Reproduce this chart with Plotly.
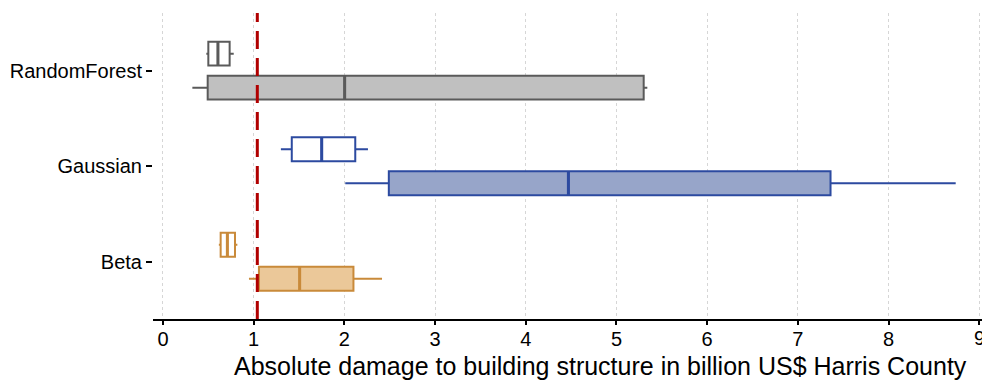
import plotly.graph_objects as go

# Damage estimates per model (billion US$), two summary rows per model
categories = ["Beta", "Gaussian", "RandomForest"]

top_low = [0.616, 1.30, 0.478]
top_q1 = [0.636, 1.42, 0.50]
top_median = [0.71, 1.75, 0.606]
top_q3 = [0.794, 2.12, 0.735]
top_high = [0.82, 2.26, 0.78]

bottom_low = [0.948, 2.01, 0.324]
bottom_q1 = [1.058, 2.49, 0.493]
bottom_median = [1.507, 4.47, 2.003]
bottom_q3 = [2.10, 7.36, 5.30]
bottom_high = [2.415, 8.74, 5.34]

reference_damage = 1.04

x_ticks = [0, 1, 2, 3, 4, 5, 6, 7, 8, 9]

line_colors = ["#c98a3a", "#2c4aa0", "#5a5a5a"]
fill_colors = ["#ebc899", "#97a5c9", "#c0c0c0"]

OFFSET = 0.178
BOX_W = 0.25

fig = go.Figure()
for i, name in enumerate(categories):
    fig.add_trace(go.Box(
        y=[i + OFFSET], orientation="h",
        lowerfence=[top_low[i]], q1=[top_q1[i]], median=[top_median[i]],
        q3=[top_q3[i]], upperfence=[top_high[i]],
        width=BOX_W, whiskerwidth=0, boxpoints=False,
        fillcolor="white", line=dict(color=line_colors[i], width=2),
        showlegend=False, name=name + " (top)",
    ))
    fig.add_trace(go.Box(
        y=[i - OFFSET], orientation="h",
        lowerfence=[bottom_low[i]], q1=[bottom_q1[i]], median=[bottom_median[i]],
        q3=[bottom_q3[i]], upperfence=[bottom_high[i]],
        width=BOX_W, whiskerwidth=0, boxpoints=False,
        fillcolor=fill_colors[i], line=dict(color=line_colors[i], width=2),
        showlegend=False, name=name,
    ))

    # heavier median strokes on both boxes
    for pos, med in ((i + OFFSET, top_median[i]), (i - OFFSET, bottom_median[i])):
        fig.add_shape(
            type="line", xref="x", yref="y",
            x0=med, x1=med, y0=pos - BOX_W / 2, y1=pos + BOX_W / 2,
            line=dict(color=line_colors[i], width=3),
        )

fig.add_shape(
    type="line", xref="x", yref="paper",
    x0=reference_damage, x1=reference_damage, y0=0, y1=1,
    line=dict(color="#b00000", width=3, dash="18px,9px"),
    layer="above",
)

font_family = "Liberation Sans, Arial, sans-serif"

# the last tick label sits on the right edge, so it is placed by hand
last_tick = x_ticks[-1]
tick_text = [str(v) for v in x_ticks[:-1]] + [""]
fig.add_annotation(
    text=str(last_tick), xref="x", yref="paper", x=last_tick, y=-0.062,
    xanchor="center", yanchor="middle", showarrow=False,
    font=dict(family=font_family, size=20, color="black"),
)

fig.add_annotation(
    text="Absolute damage to building structure in billion US$ Harris County",
    xref="paper", yref="paper", x=0.540, y=-0.1536,
    xanchor="center", yanchor="middle", showarrow=False,
    font=dict(family=font_family, size=25, color="black"),
)

fig.update_layout(
    width=982, height=382,
    margin=dict(l=153, r=0, t=13, b=63),
    paper_bgcolor="white", plot_bgcolor="white",
    boxmode="overlay",
    font=dict(family=font_family, size=20, color="black"),
    xaxis=dict(
        range=[-0.11, 9.03],
        tickvals=x_ticks, ticktext=tick_text,
        showgrid=True, gridcolor="#d6d6d6", gridwidth=1, griddash="dot",
        zeroline=False,
        showline=True, linecolor="black", linewidth=2,
        ticks="outside", ticklen=4, tickwidth=1.5, tickcolor="black",
        tickfont=dict(size=20), ticklabelstandoff=-3,
    ),
    yaxis=dict(
        range=[-0.60, 2.604],
        tickvals=list(range(len(categories))), ticktext=categories,
        showgrid=False, zeroline=False, showline=False,
        ticks="outside", ticklen=6, tickwidth=1.5, tickcolor="black",
        tickfont=dict(size=20),
    ),
)

fig.write_html("out.html")
